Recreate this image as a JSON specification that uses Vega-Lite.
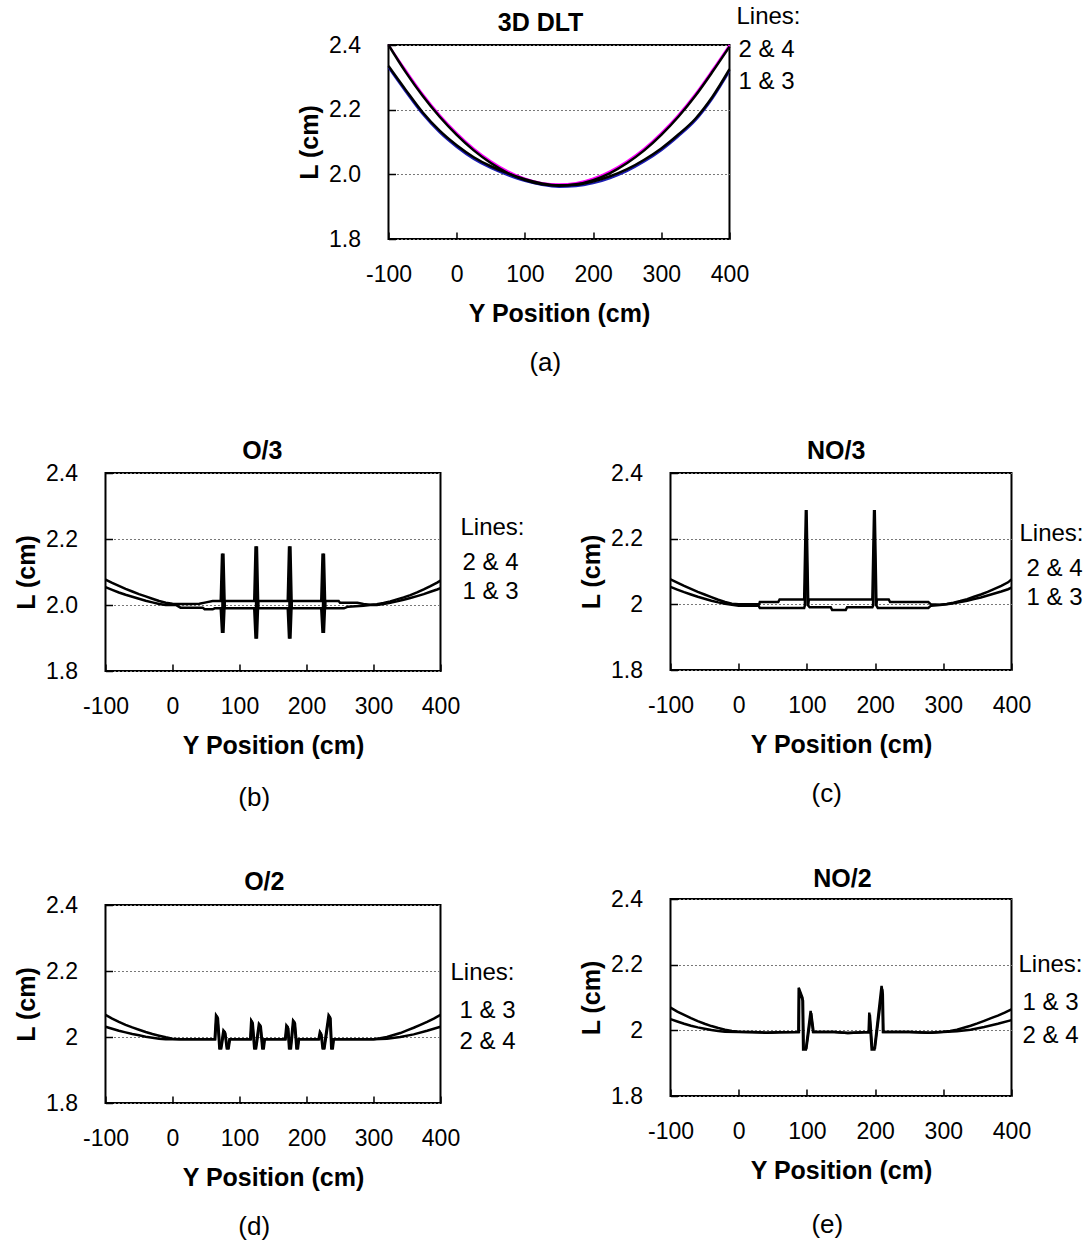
{
"$schema": "https://vega.github.io/schema/vega-lite/v6.json",
"background": "white",
"padding": {"left": 13, "top": 3, "right": 0, "bottom": 0},
"autosize": {"type": "pad"},
"center": true,
"spacing": 61,
"datasets": {
"a": [
{"x":-100,"L":2.400,"s":"Line 4"},{"x":-75,"L":2.317,"s":"Line 4"},{"x":-50,"L":2.243,"s":"Line 4"},{"x":-25,"L":2.178,"s":"Line 4"},{"x":0,"L":2.122,"s":"Line 4"},{"x":25,"L":2.074,"s":"Line 4"},{"x":50,"L":2.035,"s":"Line 4"},{"x":75,"L":2.004,"s":"Line 4"},{"x":100,"L":1.982,"s":"Line 4"},{"x":125,"L":1.969,"s":"Line 4"},{"x":150,"L":1.965,"s":"Line 4"},{"x":175,"L":1.969,"s":"Line 4"},{"x":200,"L":1.982,"s":"Line 4"},{"x":225,"L":2.004,"s":"Line 4"},{"x":250,"L":2.035,"s":"Line 4"},{"x":275,"L":2.074,"s":"Line 4"},{"x":300,"L":2.122,"s":"Line 4"},{"x":325,"L":2.178,"s":"Line 4"},{"x":350,"L":2.243,"s":"Line 4"},{"x":375,"L":2.317,"s":"Line 4"},{"x":400,"L":2.395,"s":"Line 4"},
{"x":-100,"L":2.400,"s":"Line 2"},{"x":-75,"L":2.323,"s":"Line 2"},{"x":-50,"L":2.249,"s":"Line 2"},{"x":-25,"L":2.184,"s":"Line 2"},{"x":0,"L":2.128,"s":"Line 2"},{"x":25,"L":2.080,"s":"Line 2"},{"x":50,"L":2.041,"s":"Line 2"},{"x":75,"L":2.010,"s":"Line 2"},{"x":100,"L":1.987,"s":"Line 2"},{"x":125,"L":1.973,"s":"Line 2"},{"x":150,"L":1.969,"s":"Line 2"},{"x":175,"L":1.973,"s":"Line 2"},{"x":200,"L":1.987,"s":"Line 2"},{"x":225,"L":2.010,"s":"Line 2"},{"x":250,"L":2.041,"s":"Line 2"},{"x":275,"L":2.080,"s":"Line 2"},{"x":300,"L":2.128,"s":"Line 2"},{"x":325,"L":2.184,"s":"Line 2"},{"x":350,"L":2.249,"s":"Line 2"},{"x":375,"L":2.323,"s":"Line 2"},{"x":400,"L":2.400,"s":"Line 2"},
{"x":-100,"L":2.335,"s":"Line 3"},{"x":-75,"L":2.262,"s":"Line 3"},{"x":-50,"L":2.192,"s":"Line 3"},{"x":-25,"L":2.135,"s":"Line 3"},{"x":0,"L":2.090,"s":"Line 3"},{"x":25,"L":2.053,"s":"Line 3"},{"x":50,"L":2.025,"s":"Line 3"},{"x":75,"L":2.003,"s":"Line 3"},{"x":100,"L":1.985,"s":"Line 3"},{"x":125,"L":1.972,"s":"Line 3"},{"x":150,"L":1.966,"s":"Line 3"},{"x":175,"L":1.968,"s":"Line 3"},{"x":200,"L":1.978,"s":"Line 3"},{"x":225,"L":1.994,"s":"Line 3"},{"x":250,"L":2.016,"s":"Line 3"},{"x":275,"L":2.045,"s":"Line 3"},{"x":300,"L":2.080,"s":"Line 3"},{"x":325,"L":2.123,"s":"Line 3"},{"x":350,"L":2.172,"s":"Line 3"},{"x":375,"L":2.240,"s":"Line 3"},{"x":400,"L":2.325,"s":"Line 3"},
{"x":-100,"L":2.330,"s":"Line 1"},{"x":-75,"L":2.256,"s":"Line 1"},{"x":-50,"L":2.186,"s":"Line 1"},{"x":-25,"L":2.129,"s":"Line 1"},{"x":0,"L":2.084,"s":"Line 1"},{"x":25,"L":2.047,"s":"Line 1"},{"x":50,"L":2.019,"s":"Line 1"},{"x":75,"L":1.997,"s":"Line 1"},{"x":100,"L":1.979,"s":"Line 1"},{"x":125,"L":1.967,"s":"Line 1"},{"x":150,"L":1.961,"s":"Line 1"},{"x":175,"L":1.963,"s":"Line 1"},{"x":200,"L":1.972,"s":"Line 1"},{"x":225,"L":1.988,"s":"Line 1"},{"x":250,"L":2.010,"s":"Line 1"},{"x":275,"L":2.039,"s":"Line 1"},{"x":300,"L":2.074,"s":"Line 1"},{"x":325,"L":2.117,"s":"Line 1"},{"x":350,"L":2.166,"s":"Line 1"},{"x":375,"L":2.234,"s":"Line 1"},{"x":400,"L":2.319,"s":"Line 1"}
],
"b": [
{"x":-100,"L":2.077,"s":"2 & 4"},{"x":-90,"L":2.067,"s":"2 & 4"},{"x":-80,"L":2.058,"s":"2 & 4"},{"x":-70,"L":2.049,"s":"2 & 4"},{"x":-60,"L":2.041,"s":"2 & 4"},{"x":-50,"L":2.033,"s":"2 & 4"},{"x":-40,"L":2.026,"s":"2 & 4"},{"x":-30,"L":2.019,"s":"2 & 4"},{"x":-20,"L":2.012,"s":"2 & 4"},{"x":-10,"L":2.007,"s":"2 & 4"},{"x":0,"L":2.004,"s":"2 & 4"},{"x":10,"L":2.003,"s":"2 & 4"},{"x":25,"L":2.003,"s":"2 & 4"},{"x":40,"L":2.004,"s":"2 & 4"},{"x":50,"L":2.008,"s":"2 & 4"},{"x":60,"L":2.012,"s":"2 & 4"},{"x":72,"L":2.012,"s":"2 & 4"},{"x":74,"L":2.156,"s":"2 & 4"},{"x":76,"L":1.915,"s":"2 & 4"},{"x":78,"L":2.012,"s":"2 & 4"},{"x":122,"L":2.012,"s":"2 & 4"},{"x":124,"L":2.178,"s":"2 & 4"},{"x":126,"L":1.898,"s":"2 & 4"},{"x":128,"L":2.012,"s":"2 & 4"},{"x":172,"L":2.012,"s":"2 & 4"},{"x":174,"L":2.178,"s":"2 & 4"},{"x":176,"L":1.898,"s":"2 & 4"},{"x":178,"L":2.012,"s":"2 & 4"},{"x":222,"L":2.012,"s":"2 & 4"},{"x":224,"L":2.156,"s":"2 & 4"},{"x":226,"L":1.915,"s":"2 & 4"},{"x":228,"L":2.012,"s":"2 & 4"},{"x":248,"L":2.012,"s":"2 & 4"},{"x":250,"L":2.007,"s":"2 & 4"},{"x":276,"L":2.007,"s":"2 & 4"},{"x":285,"L":2.003,"s":"2 & 4"},{"x":295,"L":2.001,"s":"2 & 4"},{"x":305,"L":2.002,"s":"2 & 4"},{"x":315,"L":2.006,"s":"2 & 4"},{"x":325,"L":2.011,"s":"2 & 4"},{"x":335,"L":2.017,"s":"2 & 4"},{"x":345,"L":2.023,"s":"2 & 4"},{"x":355,"L":2.030,"s":"2 & 4"},{"x":365,"L":2.038,"s":"2 & 4"},{"x":375,"L":2.047,"s":"2 & 4"},{"x":385,"L":2.057,"s":"2 & 4"},{"x":395,"L":2.068,"s":"2 & 4"},{"x":400,"L":2.074,"s":"2 & 4"},
{"x":-100,"L":2.054,"s":"1 & 3"},{"x":-90,"L":2.046,"s":"1 & 3"},{"x":-80,"L":2.038,"s":"1 & 3"},{"x":-70,"L":2.031,"s":"1 & 3"},{"x":-60,"L":2.025,"s":"1 & 3"},{"x":-50,"L":2.019,"s":"1 & 3"},{"x":-40,"L":2.013,"s":"1 & 3"},{"x":-30,"L":2.008,"s":"1 & 3"},{"x":-20,"L":2.003,"s":"1 & 3"},{"x":-10,"L":2.000,"s":"1 & 3"},{"x":5,"L":2.000,"s":"1 & 3"},{"x":12,"L":1.992,"s":"1 & 3"},{"x":45,"L":1.992,"s":"1 & 3"},{"x":48,"L":1.987,"s":"1 & 3"},{"x":60,"L":1.987,"s":"1 & 3"},{"x":63,"L":1.990,"s":"1 & 3"},{"x":72,"L":1.990,"s":"1 & 3"},{"x":74,"L":1.915,"s":"1 & 3"},{"x":76,"L":2.156,"s":"1 & 3"},{"x":78,"L":1.990,"s":"1 & 3"},{"x":122,"L":1.990,"s":"1 & 3"},{"x":124,"L":1.898,"s":"1 & 3"},{"x":126,"L":2.178,"s":"1 & 3"},{"x":128,"L":1.990,"s":"1 & 3"},{"x":172,"L":1.990,"s":"1 & 3"},{"x":174,"L":1.898,"s":"1 & 3"},{"x":176,"L":2.178,"s":"1 & 3"},{"x":178,"L":1.990,"s":"1 & 3"},{"x":222,"L":1.990,"s":"1 & 3"},{"x":224,"L":1.915,"s":"1 & 3"},{"x":226,"L":2.156,"s":"1 & 3"},{"x":228,"L":1.990,"s":"1 & 3"},{"x":256,"L":1.990,"s":"1 & 3"},{"x":262,"L":1.995,"s":"1 & 3"},{"x":285,"L":1.998,"s":"1 & 3"},{"x":295,"L":2.000,"s":"1 & 3"},{"x":305,"L":2.000,"s":"1 & 3"},{"x":315,"L":2.003,"s":"1 & 3"},{"x":325,"L":2.007,"s":"1 & 3"},{"x":335,"L":2.011,"s":"1 & 3"},{"x":345,"L":2.016,"s":"1 & 3"},{"x":355,"L":2.021,"s":"1 & 3"},{"x":365,"L":2.027,"s":"1 & 3"},{"x":375,"L":2.033,"s":"1 & 3"},{"x":385,"L":2.040,"s":"1 & 3"},{"x":395,"L":2.047,"s":"1 & 3"},{"x":400,"L":2.051,"s":"1 & 3"}
],
"c": [
{"x":-100,"L":2.076,"s":"2 & 4"},{"x":-90,"L":2.066,"s":"2 & 4"},{"x":-80,"L":2.056,"s":"2 & 4"},{"x":-70,"L":2.047,"s":"2 & 4"},{"x":-60,"L":2.038,"s":"2 & 4"},{"x":-50,"L":2.030,"s":"2 & 4"},{"x":-40,"L":2.022,"s":"2 & 4"},{"x":-30,"L":2.014,"s":"2 & 4"},{"x":-20,"L":2.007,"s":"2 & 4"},{"x":-10,"L":2.002,"s":"2 & 4"},{"x":0,"L":2.000,"s":"2 & 4"},{"x":30,"L":2.000,"s":"2 & 4"},{"x":31,"L":2.007,"s":"2 & 4"},{"x":58,"L":2.007,"s":"2 & 4"},{"x":60,"L":2.015,"s":"2 & 4"},{"x":96,"L":2.015,"s":"2 & 4"},{"x":98.5,"L":2.287,"s":"2 & 4"},{"x":101,"L":1.996,"s":"2 & 4"},{"x":103,"L":2.015,"s":"2 & 4"},{"x":196,"L":2.015,"s":"2 & 4"},{"x":198.5,"L":2.287,"s":"2 & 4"},{"x":201,"L":1.996,"s":"2 & 4"},{"x":203,"L":2.015,"s":"2 & 4"},{"x":220,"L":2.015,"s":"2 & 4"},{"x":222,"L":2.007,"s":"2 & 4"},{"x":278,"L":2.007,"s":"2 & 4"},{"x":282,"L":2.000,"s":"2 & 4"},{"x":295,"L":1.999,"s":"2 & 4"},{"x":305,"L":2.001,"s":"2 & 4"},{"x":315,"L":2.005,"s":"2 & 4"},{"x":325,"L":2.010,"s":"2 & 4"},{"x":335,"L":2.016,"s":"2 & 4"},{"x":345,"L":2.023,"s":"2 & 4"},{"x":355,"L":2.030,"s":"2 & 4"},{"x":365,"L":2.038,"s":"2 & 4"},{"x":375,"L":2.047,"s":"2 & 4"},{"x":385,"L":2.056,"s":"2 & 4"},{"x":395,"L":2.067,"s":"2 & 4"},{"x":400,"L":2.076,"s":"2 & 4"},
{"x":-100,"L":2.053,"s":"1 & 3"},{"x":-90,"L":2.045,"s":"1 & 3"},{"x":-80,"L":2.037,"s":"1 & 3"},{"x":-70,"L":2.030,"s":"1 & 3"},{"x":-60,"L":2.023,"s":"1 & 3"},{"x":-50,"L":2.017,"s":"1 & 3"},{"x":-40,"L":2.011,"s":"1 & 3"},{"x":-30,"L":2.006,"s":"1 & 3"},{"x":-20,"L":2.002,"s":"1 & 3"},{"x":-10,"L":1.999,"s":"1 & 3"},{"x":0,"L":1.996,"s":"1 & 3"},{"x":29,"L":1.996,"s":"1 & 3"},{"x":31,"L":1.989,"s":"1 & 3"},{"x":96,"L":1.989,"s":"1 & 3"},{"x":97,"L":1.996,"s":"1 & 3"},{"x":99.5,"L":2.287,"s":"1 & 3"},{"x":102,"L":1.996,"s":"1 & 3"},{"x":104,"L":1.991,"s":"1 & 3"},{"x":135,"L":1.991,"s":"1 & 3"},{"x":137,"L":1.983,"s":"1 & 3"},{"x":157,"L":1.983,"s":"1 & 3"},{"x":159,"L":1.991,"s":"1 & 3"},{"x":196,"L":1.991,"s":"1 & 3"},{"x":197,"L":1.996,"s":"1 & 3"},{"x":199.5,"L":2.287,"s":"1 & 3"},{"x":202,"L":1.996,"s":"1 & 3"},{"x":204,"L":1.989,"s":"1 & 3"},{"x":278,"L":1.989,"s":"1 & 3"},{"x":282,"L":1.996,"s":"1 & 3"},{"x":295,"L":1.998,"s":"1 & 3"},{"x":305,"L":2.000,"s":"1 & 3"},{"x":315,"L":2.003,"s":"1 & 3"},{"x":325,"L":2.007,"s":"1 & 3"},{"x":335,"L":2.011,"s":"1 & 3"},{"x":345,"L":2.016,"s":"1 & 3"},{"x":355,"L":2.021,"s":"1 & 3"},{"x":365,"L":2.027,"s":"1 & 3"},{"x":375,"L":2.033,"s":"1 & 3"},{"x":385,"L":2.039,"s":"1 & 3"},{"x":395,"L":2.046,"s":"1 & 3"},{"x":400,"L":2.051,"s":"1 & 3"}
],
"d": [
{"x":-100,"L":2.067,"s":"1 & 3"},{"x":-90,"L":2.056,"s":"1 & 3"},{"x":-80,"L":2.046,"s":"1 & 3"},{"x":-70,"L":2.037,"s":"1 & 3"},{"x":-60,"L":2.029,"s":"1 & 3"},{"x":-50,"L":2.022,"s":"1 & 3"},{"x":-40,"L":2.015,"s":"1 & 3"},{"x":-30,"L":2.009,"s":"1 & 3"},{"x":-20,"L":2.004,"s":"1 & 3"},{"x":-10,"L":1.999,"s":"1 & 3"},{"x":0,"L":1.995,"s":"1 & 3"},{"x":10,"L":1.993,"s":"1 & 3"},{"x":63,"L":1.993,"s":"1 & 3"},{"x":65,"L":2.066,"s":"1 & 3"},{"x":67,"L":2.060,"s":"1 & 3"},{"x":70,"L":1.966,"s":"1 & 3"},{"x":72,"L":1.966,"s":"1 & 3"},{"x":76,"L":2.020,"s":"1 & 3"},{"x":78,"L":2.015,"s":"1 & 3"},{"x":81,"L":1.966,"s":"1 & 3"},{"x":83,"L":1.966,"s":"1 & 3"},{"x":85,"L":1.993,"s":"1 & 3"},{"x":116,"L":1.993,"s":"1 & 3"},{"x":117.5,"L":2.050,"s":"1 & 3"},{"x":119,"L":2.045,"s":"1 & 3"},{"x":122,"L":1.966,"s":"1 & 3"},{"x":124,"L":1.966,"s":"1 & 3"},{"x":129,"L":2.040,"s":"1 & 3"},{"x":131,"L":2.035,"s":"1 & 3"},{"x":134,"L":1.966,"s":"1 & 3"},{"x":135.5,"L":1.966,"s":"1 & 3"},{"x":137,"L":1.993,"s":"1 & 3"},{"x":168,"L":1.993,"s":"1 & 3"},{"x":170,"L":2.035,"s":"1 & 3"},{"x":172,"L":2.030,"s":"1 & 3"},{"x":174,"L":1.966,"s":"1 & 3"},{"x":176,"L":1.966,"s":"1 & 3"},{"x":180,"L":2.050,"s":"1 & 3"},{"x":182,"L":2.045,"s":"1 & 3"},{"x":185,"L":1.966,"s":"1 & 3"},{"x":186.5,"L":1.966,"s":"1 & 3"},{"x":188,"L":1.993,"s":"1 & 3"},{"x":218,"L":1.993,"s":"1 & 3"},{"x":220,"L":2.015,"s":"1 & 3"},{"x":221.5,"L":2.010,"s":"1 & 3"},{"x":224,"L":1.966,"s":"1 & 3"},{"x":226,"L":1.966,"s":"1 & 3"},{"x":233,"L":2.066,"s":"1 & 3"},{"x":235,"L":2.060,"s":"1 & 3"},{"x":237,"L":1.966,"s":"1 & 3"},{"x":238.5,"L":1.966,"s":"1 & 3"},{"x":240,"L":1.993,"s":"1 & 3"},{"x":300,"L":1.993,"s":"1 & 3"},{"x":310,"L":1.996,"s":"1 & 3"},{"x":320,"L":2.000,"s":"1 & 3"},{"x":330,"L":2.006,"s":"1 & 3"},{"x":340,"L":2.012,"s":"1 & 3"},{"x":350,"L":2.020,"s":"1 & 3"},{"x":360,"L":2.028,"s":"1 & 3"},{"x":370,"L":2.037,"s":"1 & 3"},{"x":380,"L":2.046,"s":"1 & 3"},{"x":390,"L":2.056,"s":"1 & 3"},{"x":400,"L":2.067,"s":"1 & 3"},
{"x":-100,"L":2.031,"s":"2 & 4"},{"x":-90,"L":2.025,"s":"2 & 4"},{"x":-80,"L":2.019,"s":"2 & 4"},{"x":-70,"L":2.014,"s":"2 & 4"},{"x":-60,"L":2.009,"s":"2 & 4"},{"x":-50,"L":2.005,"s":"2 & 4"},{"x":-40,"L":2.001,"s":"2 & 4"},{"x":-30,"L":1.998,"s":"2 & 4"},{"x":-20,"L":1.995,"s":"2 & 4"},{"x":-10,"L":1.993,"s":"2 & 4"},{"x":63.8,"L":1.993,"s":"2 & 4"},{"x":65.8,"L":2.062,"s":"2 & 4"},{"x":67.8,"L":2.056,"s":"2 & 4"},{"x":70.8,"L":1.966,"s":"2 & 4"},{"x":72.8,"L":1.966,"s":"2 & 4"},{"x":76.8,"L":2.016,"s":"2 & 4"},{"x":78.8,"L":2.011,"s":"2 & 4"},{"x":81.8,"L":1.966,"s":"2 & 4"},{"x":83.8,"L":1.966,"s":"2 & 4"},{"x":85.8,"L":1.993,"s":"2 & 4"},{"x":116.8,"L":1.993,"s":"2 & 4"},{"x":118.3,"L":2.046,"s":"2 & 4"},{"x":119.8,"L":2.041,"s":"2 & 4"},{"x":122.8,"L":1.966,"s":"2 & 4"},{"x":124.8,"L":1.966,"s":"2 & 4"},{"x":129.8,"L":2.036,"s":"2 & 4"},{"x":131.8,"L":2.031,"s":"2 & 4"},{"x":134.8,"L":1.966,"s":"2 & 4"},{"x":136.3,"L":1.966,"s":"2 & 4"},{"x":137.8,"L":1.993,"s":"2 & 4"},{"x":168.8,"L":1.993,"s":"2 & 4"},{"x":170.8,"L":2.031,"s":"2 & 4"},{"x":172.8,"L":2.026,"s":"2 & 4"},{"x":174.8,"L":1.966,"s":"2 & 4"},{"x":176.8,"L":1.966,"s":"2 & 4"},{"x":180.8,"L":2.046,"s":"2 & 4"},{"x":182.8,"L":2.041,"s":"2 & 4"},{"x":185.8,"L":1.966,"s":"2 & 4"},{"x":187.3,"L":1.966,"s":"2 & 4"},{"x":188.8,"L":1.993,"s":"2 & 4"},{"x":218.8,"L":1.993,"s":"2 & 4"},{"x":220.8,"L":2.012,"s":"2 & 4"},{"x":222.3,"L":2.007,"s":"2 & 4"},{"x":224.8,"L":1.966,"s":"2 & 4"},{"x":226.8,"L":1.966,"s":"2 & 4"},{"x":233.8,"L":2.062,"s":"2 & 4"},{"x":235.8,"L":2.056,"s":"2 & 4"},{"x":237.8,"L":1.966,"s":"2 & 4"},{"x":239.3,"L":1.966,"s":"2 & 4"},{"x":240.8,"L":1.993,"s":"2 & 4"},{"x":300,"L":1.993,"s":"2 & 4"},{"x":320,"L":1.995,"s":"2 & 4"},{"x":340,"L":2.000,"s":"2 & 4"},{"x":360,"L":2.008,"s":"2 & 4"},{"x":380,"L":2.019,"s":"2 & 4"},{"x":400,"L":2.031,"s":"2 & 4"}
],
"e": [
{"x":-100,"L":2.069,"s":"1 & 3"},{"x":-90,"L":2.057,"s":"1 & 3"},{"x":-80,"L":2.047,"s":"1 & 3"},{"x":-70,"L":2.037,"s":"1 & 3"},{"x":-60,"L":2.028,"s":"1 & 3"},{"x":-50,"L":2.020,"s":"1 & 3"},{"x":-40,"L":2.013,"s":"1 & 3"},{"x":-30,"L":2.007,"s":"1 & 3"},{"x":-20,"L":2.002,"s":"1 & 3"},{"x":-10,"L":1.998,"s":"1 & 3"},{"x":0,"L":1.996,"s":"1 & 3"},{"x":20,"L":1.995,"s":"1 & 3"},{"x":40,"L":1.993,"s":"1 & 3"},{"x":60,"L":1.994,"s":"1 & 3"},{"x":87.5,"L":1.995,"s":"1 & 3"},{"x":88,"L":2.130,"s":"1 & 3"},{"x":93.5,"L":2.099,"s":"1 & 3"},{"x":94.5,"L":1.942,"s":"1 & 3"},{"x":98.5,"L":1.942,"s":"1 & 3"},{"x":105.5,"L":2.059,"s":"1 & 3"},{"x":109,"L":1.995,"s":"1 & 3"},{"x":140,"L":1.995,"s":"1 & 3"},{"x":160,"L":1.992,"s":"1 & 3"},{"x":190.5,"L":1.995,"s":"1 & 3"},{"x":191.5,"L":2.054,"s":"1 & 3"},{"x":195,"L":1.942,"s":"1 & 3"},{"x":199,"L":1.942,"s":"1 & 3"},{"x":209.5,"L":2.135,"s":"1 & 3"},{"x":210.5,"L":2.120,"s":"1 & 3"},{"x":211.5,"L":1.995,"s":"1 & 3"},{"x":250,"L":1.995,"s":"1 & 3"},{"x":280,"L":1.993,"s":"1 & 3"},{"x":300,"L":1.996,"s":"1 & 3"},{"x":310,"L":1.998,"s":"1 & 3"},{"x":320,"L":2.002,"s":"1 & 3"},{"x":330,"L":2.008,"s":"1 & 3"},{"x":340,"L":2.014,"s":"1 & 3"},{"x":350,"L":2.021,"s":"1 & 3"},{"x":360,"L":2.029,"s":"1 & 3"},{"x":370,"L":2.037,"s":"1 & 3"},{"x":380,"L":2.045,"s":"1 & 3"},{"x":390,"L":2.054,"s":"1 & 3"},{"x":400,"L":2.064,"s":"1 & 3"},
{"x":-100,"L":2.034,"s":"2 & 4"},{"x":-90,"L":2.027,"s":"2 & 4"},{"x":-80,"L":2.020,"s":"2 & 4"},{"x":-70,"L":2.014,"s":"2 & 4"},{"x":-60,"L":2.009,"s":"2 & 4"},{"x":-50,"L":2.005,"s":"2 & 4"},{"x":-40,"L":2.001,"s":"2 & 4"},{"x":-30,"L":1.998,"s":"2 & 4"},{"x":-20,"L":1.996,"s":"2 & 4"},{"x":0,"L":1.995,"s":"2 & 4"},{"x":20,"L":1.994,"s":"2 & 4"},{"x":40,"L":1.993,"s":"2 & 4"},{"x":60,"L":1.994,"s":"2 & 4"},{"x":88.3,"L":1.995,"s":"2 & 4"},{"x":88.8,"L":2.120,"s":"2 & 4"},{"x":94.3,"L":2.090,"s":"2 & 4"},{"x":95.3,"L":1.946,"s":"2 & 4"},{"x":99.3,"L":1.946,"s":"2 & 4"},{"x":106.3,"L":2.052,"s":"2 & 4"},{"x":109.8,"L":1.995,"s":"2 & 4"},{"x":140,"L":1.995,"s":"2 & 4"},{"x":160,"L":1.992,"s":"2 & 4"},{"x":191.3,"L":1.995,"s":"2 & 4"},{"x":192.3,"L":2.048,"s":"2 & 4"},{"x":195.8,"L":1.946,"s":"2 & 4"},{"x":199.8,"L":1.946,"s":"2 & 4"},{"x":210.3,"L":2.125,"s":"2 & 4"},{"x":211.3,"L":2.110,"s":"2 & 4"},{"x":212.3,"L":1.995,"s":"2 & 4"},{"x":250,"L":1.995,"s":"2 & 4"},{"x":280,"L":1.993,"s":"2 & 4"},{"x":300,"L":1.995,"s":"2 & 4"},{"x":320,"L":1.997,"s":"2 & 4"},{"x":340,"L":2.002,"s":"2 & 4"},{"x":360,"L":2.010,"s":"2 & 4"},{"x":380,"L":2.020,"s":"2 & 4"},{"x":400,"L":2.031,"s":"2 & 4"}
]
},
"vconcat": [
{"width": 341, "height": 194,
 "layer": [
  {"data": {"name": "a"}, "transform": [{"filter": "datum.s === 'Line 1' || datum.s === 'Line 2'"}],
   "mark": {"type": "line", "strokeWidth": 2, "interpolate": "monotone"},
   "encoding": {
    "x": {"field": "x", "type": "quantitative", "scale": {"domain": [-100, 400], "nice": false, "zero": false}, "axis": {"values": [-100, 0, 100, 200, 300, 400], "title": "Y Position (cm)", "grid": false, "labelExpr": "'' + datum.value"}},
    "y": {"field": "L", "type": "quantitative", "scale": {"domain": [1.8, 2.4], "nice": false, "zero": false}, "axis": {"values": [1.8, 2.0, 2.2, 2.4], "format": ".1f", "title": "L (cm)", "grid": true}},
    "color": {"field": "s", "type": "nominal", "scale": {"domain": ["Line 1", "Line 2"], "range": ["#1c1cb4", "#ff00ff"]}, "legend": null}}},
  {"data": {"name": "a"}, "transform": [{"filter": "datum.s === 'Line 3' || datum.s === 'Line 4'"}],
   "mark": {"type": "line", "strokeWidth": 2.5, "color": "black", "interpolate": "monotone"},
   "encoding": {"x": {"field": "x", "type": "quantitative"}, "y": {"field": "L", "type": "quantitative"}, "detail": {"field": "s", "type": "nominal"}}},
  {"data": {"values": [{}]}, "mark": {"type": "text", "text": "3D DLT", "fontSize": 25, "fontWeight": "bold", "baseline": "middle", "align": "center", "dy": -22}, "encoding": {"x": {"datum": 123}, "y": {"datum": 2.4}}},
  {"data": {"values": [{}]}, "mark": {"type": "text", "text": "Lines:", "fontSize": 24, "baseline": "middle", "align": "center", "dx": 39}, "encoding": {"x": {"datum": 400}, "y": {"datum": 2.487}}},
  {"data": {"values": [{}]}, "mark": {"type": "text", "text": "2 & 4", "fontSize": 24, "baseline": "middle", "align": "center", "dx": 37}, "encoding": {"x": {"datum": 400}, "y": {"datum": 2.385}}},
  {"data": {"values": [{}]}, "mark": {"type": "text", "text": "1 & 3", "fontSize": 24, "baseline": "middle", "align": "center", "dx": 37}, "encoding": {"x": {"datum": 400}, "y": {"datum": 2.286}}},
  {"data": {"values": [{}]}, "mark": {"type": "text", "text": "(a)", "fontSize": 26, "baseline": "middle", "align": "center", "dy": 124}, "encoding": {"x": {"datum": 130}, "y": {"datum": 1.8}}}
 ]},
{"hconcat": [
 {"vconcat": [
  {"width": 335, "height": 198,
   "layer": [
    {"data": {"name": "b"},
     "mark": {"type": "line", "strokeWidth": 2.5, "color": "black"},
     "encoding": {
      "x": {"field": "x", "type": "quantitative", "scale": {"domain": [-100, 400], "nice": false, "zero": false}, "axis": {"values": [-100, 0, 100, 200, 300, 400], "title": "Y Position (cm)", "grid": false, "labelExpr": "'' + datum.value"}},
      "y": {"field": "L", "type": "quantitative", "scale": {"domain": [1.8, 2.4], "nice": false, "zero": false}, "axis": {"values": [1.8, 2.0, 2.2, 2.4], "format": ".1f", "title": "L (cm)", "grid": true}},
      "detail": {"field": "s", "type": "nominal"}}},
    {"data": {"values": [{}]}, "mark": {"type": "text", "text": "O/3", "fontSize": 25, "fontWeight": "bold", "baseline": "middle", "align": "center", "dy": -22}, "encoding": {"x": {"datum": 134}, "y": {"datum": 2.4}}},
    {"data": {"values": [{}]}, "mark": {"type": "text", "text": "Lines:", "fontSize": 24, "baseline": "middle", "align": "center", "dx": 52}, "encoding": {"x": {"datum": 400}, "y": {"datum": 2.233}}},
    {"data": {"values": [{}]}, "mark": {"type": "text", "text": "2 & 4", "fontSize": 24, "baseline": "middle", "align": "center", "dx": 50}, "encoding": {"x": {"datum": 400}, "y": {"datum": 2.127}}},
    {"data": {"values": [{}]}, "mark": {"type": "text", "text": "1 & 3", "fontSize": 24, "baseline": "middle", "align": "center", "dx": 50}, "encoding": {"x": {"datum": 400}, "y": {"datum": 2.039}}},
    {"data": {"values": [{}]}, "mark": {"type": "text", "text": "(b)", "fontSize": 26, "baseline": "middle", "align": "center", "dy": 127}, "encoding": {"x": {"datum": 122}, "y": {"datum": 1.8}}}
   ]},
  {"width": 335, "height": 198,
   "layer": [
    {"data": {"name": "d"},
     "mark": {"type": "line", "strokeWidth": 2.5, "color": "black"},
     "encoding": {
      "x": {"field": "x", "type": "quantitative", "scale": {"domain": [-100, 400], "nice": false, "zero": false}, "axis": {"values": [-100, 0, 100, 200, 300, 400], "title": "Y Position (cm)", "grid": false, "labelExpr": "'' + datum.value"}},
      "y": {"field": "L", "type": "quantitative", "scale": {"domain": [1.8, 2.4], "nice": false, "zero": false}, "axis": {"values": [1.8, 2.0, 2.2, 2.4], "format": "~f", "title": "L (cm)", "grid": true}},
      "detail": {"field": "s", "type": "nominal"}}},
    {"data": {"values": [{}]}, "mark": {"type": "text", "text": "O/2", "fontSize": 25, "fontWeight": "bold", "baseline": "middle", "align": "center", "dy": -23}, "encoding": {"x": {"datum": 137}, "y": {"datum": 2.4}}},
    {"data": {"values": [{}]}, "mark": {"type": "text", "text": "Lines:", "fontSize": 24, "baseline": "middle", "align": "center", "dx": 42}, "encoding": {"x": {"datum": 400}, "y": {"datum": 2.194}}},
    {"data": {"values": [{}]}, "mark": {"type": "text", "text": "1 & 3", "fontSize": 24, "baseline": "middle", "align": "center", "dx": 47}, "encoding": {"x": {"datum": 400}, "y": {"datum": 2.079}}},
    {"data": {"values": [{}]}, "mark": {"type": "text", "text": "2 & 4", "fontSize": 24, "baseline": "middle", "align": "center", "dx": 47}, "encoding": {"x": {"datum": 400}, "y": {"datum": 1.985}}},
    {"data": {"values": [{}]}, "mark": {"type": "text", "text": "(d)", "fontSize": 26, "baseline": "middle", "align": "center", "dy": 124}, "encoding": {"x": {"datum": 122}, "y": {"datum": 1.8}}}
   ]}
 ], "bounds": "flush", "spacing": 234},
 {"vconcat": [
  {"width": 341, "height": 197,
   "layer": [
    {"data": {"name": "c"},
     "mark": {"type": "line", "strokeWidth": 2.5, "color": "black"},
     "encoding": {
      "x": {"field": "x", "type": "quantitative", "scale": {"domain": [-100, 400], "nice": false, "zero": false}, "axis": {"values": [-100, 0, 100, 200, 300, 400], "title": "Y Position (cm)", "grid": false, "labelExpr": "'' + datum.value"}},
      "y": {"field": "L", "type": "quantitative", "scale": {"domain": [1.8, 2.4], "nice": false, "zero": false}, "axis": {"values": [1.8, 2.0, 2.2, 2.4], "format": "~f", "title": "L (cm)", "grid": true}},
      "detail": {"field": "s", "type": "nominal"}}},
    {"data": {"values": [{}]}, "mark": {"type": "text", "text": "NO/3", "fontSize": 25, "fontWeight": "bold", "baseline": "middle", "align": "center", "dy": -22}, "encoding": {"x": {"datum": 143}, "y": {"datum": 2.4}}},
    {"data": {"values": [{}]}, "mark": {"type": "text", "text": "Lines:", "fontSize": 24, "baseline": "middle", "align": "center", "dx": 40}, "encoding": {"x": {"datum": 400}, "y": {"datum": 2.214}}},
    {"data": {"values": [{}]}, "mark": {"type": "text", "text": "2 & 4", "fontSize": 24, "baseline": "middle", "align": "center", "dx": 43}, "encoding": {"x": {"datum": 400}, "y": {"datum": 2.108}}},
    {"data": {"values": [{}]}, "mark": {"type": "text", "text": "1 & 3", "fontSize": 24, "baseline": "middle", "align": "center", "dx": 43}, "encoding": {"x": {"datum": 400}, "y": {"datum": 2.019}}},
    {"data": {"values": [{}]}, "mark": {"type": "text", "text": "(c)", "fontSize": 26, "baseline": "middle", "align": "center", "dy": 124}, "encoding": {"x": {"datum": 129}, "y": {"datum": 1.8}}}
   ]},
  {"width": 341, "height": 197,
   "layer": [
    {"data": {"name": "e"},
     "mark": {"type": "line", "strokeWidth": 2.5, "color": "black"},
     "encoding": {
      "x": {"field": "x", "type": "quantitative", "scale": {"domain": [-100, 400], "nice": false, "zero": false}, "axis": {"values": [-100, 0, 100, 200, 300, 400], "title": "Y Position (cm)", "grid": false, "labelExpr": "'' + datum.value"}},
      "y": {"field": "L", "type": "quantitative", "scale": {"domain": [1.8, 2.4], "nice": false, "zero": false}, "axis": {"values": [1.8, 2.0, 2.2, 2.4], "format": "~f", "title": "L (cm)", "grid": true}},
      "detail": {"field": "s", "type": "nominal"}}},
    {"data": {"values": [{}]}, "mark": {"type": "text", "text": "NO/2", "fontSize": 25, "fontWeight": "bold", "baseline": "middle", "align": "center", "dy": -20}, "encoding": {"x": {"datum": 152}, "y": {"datum": 2.4}}},
    {"data": {"values": [{}]}, "mark": {"type": "text", "text": "Lines:", "fontSize": 24, "baseline": "middle", "align": "center", "dx": 39}, "encoding": {"x": {"datum": 400}, "y": {"datum": 2.199}}},
    {"data": {"values": [{}]}, "mark": {"type": "text", "text": "1 & 3", "fontSize": 24, "baseline": "middle", "align": "center", "dx": 39}, "encoding": {"x": {"datum": 400}, "y": {"datum": 2.084}}},
    {"data": {"values": [{}]}, "mark": {"type": "text", "text": "2 & 4", "fontSize": 24, "baseline": "middle", "align": "center", "dx": 39}, "encoding": {"x": {"datum": 400}, "y": {"datum": 1.983}}},
    {"data": {"values": [{}]}, "mark": {"type": "text", "text": "(e)", "fontSize": 26, "baseline": "middle", "align": "center", "dy": 129}, "encoding": {"x": {"datum": 130}, "y": {"datum": 1.8}}}
   ]}
 ], "bounds": "flush", "spacing": 229}
], "spacing": 52}
],
"config": {
 "font": "Liberation Sans",
 "view": {"stroke": "black", "strokeWidth": 2},
 "axis": {
  "domain": false, "ticks": true, "tickSize": -7, "tickColor": "black", "tickWidth": 1.5,
  "labelFont": "Liberation Sans", "labelFontSize": 23, "labelColor": "black", "labelFlush": false, "labelOverlap": false, "labelBound": false,
  "titleFont": "Liberation Sans", "titleFontSize": 25, "titleFontWeight": "bold", "titleColor": "black"
 },
 "axisX": {"labelPadding": 31, "titlePadding": 15},
 "axisY": {"labelPadding": 35, "titlePadding": 6, "gridColor": "#777777", "gridWidth": 1, "gridDash": [2, 2]},
 "text": {"font": "Liberation Sans", "color": "black"}
}
}
